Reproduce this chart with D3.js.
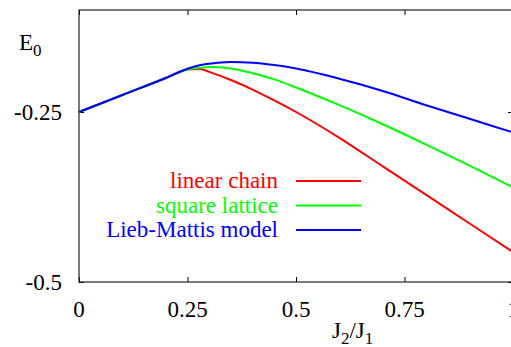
<!DOCTYPE html>
<html>
<head>
<meta charset="utf-8">
<script src="https://cdn.jsdelivr.net/npm/d3@7"></script>
</head>
<body style="margin:0; background:#fff">
<svg id="chart" width="511" height="347" style="display:block">
  <g id="plot" transform="translate(79,10)">
    <text class="xlab" style="font-family:'Liberation Serif'" font-size="23" text-anchor="middle">0</text>
    <text class="xlab" style="font-family:'Liberation Serif'" font-size="23" text-anchor="middle">0</text>
    <text class="xlab" style="font-family:'Liberation Serif'" font-size="23" text-anchor="middle">0</text>
    <text class="xlab" style="font-family:'Liberation Serif'" font-size="23" text-anchor="middle">0</text>
    <text class="xlab" style="font-family:'Liberation Serif'" font-size="23" text-anchor="middle">0</text>
    <text class="ylab" style="font-family:'Liberation Serif'" font-size="23" text-anchor="end">0</text>
    <text class="ylab" style="font-family:'Liberation Serif'" font-size="23" text-anchor="end">0</text>
  </g>
  <text class="leg" style="font-family:'Liberation Serif'" font-size="23" text-anchor="end">x</text>
  <text class="leg" style="font-family:'Liberation Serif'" font-size="23" text-anchor="end">x</text>
  <text class="leg" style="font-family:'Liberation Serif'" font-size="23" text-anchor="end">x</text>
  <text id="ytitle" style="font-family:'Liberation Serif'" font-size="23"><tspan>E</tspan><tspan font-size="17" dy="6">0</tspan></text>
  <text id="xtitle" style="font-family:'Liberation Serif'" font-size="23"><tspan>J</tspan><tspan font-size="17" dy="6">2</tspan><tspan dy="-6">/J</tspan><tspan font-size="17" dy="6">1</tspan></text>
</svg>
<script>
// plot frame in pixels
var width = 434;
var height = 272;

// data
var ratio = [0, 0.1, 0.2, 0.25, 0.28, 0.3, 0.35, 0.4, 0.45, 0.5, 0.6, 0.7, 0.8, 0.9, 1.0];
var linearChain = [-0.25, -0.225, -0.2, -0.1875, -0.1868, -0.191, -0.203, -0.217, -0.233, -0.25, -0.288, -0.33, -0.372, -0.414, -0.456];
var squareLattice = [-0.25, -0.225, -0.2, -0.1875, -0.1848, -0.184, -0.186, -0.193, -0.202, -0.214, -0.24, -0.268, -0.298, -0.329, -0.361];
var liebMattis = [-0.25, -0.225, -0.2, -0.1865, -0.181, -0.179, -0.1765, -0.1775, -0.181, -0.186, -0.201, -0.219, -0.24, -0.26, -0.28];

var seriesNames = ["linear chain", "square lattice", "Lieb-Mattis model"];
var seriesColors = ["#ff0000", "#00ff00", "#0000ff"];
var seriesValues = [linearChain, squareLattice, liebMattis];

var xTicks = [0, 0.25, 0.5, 0.75, 1];
var xTickLabels = ["0", "0.25", "0.5", "0.75", "1"];
var yTicks = [-0.5, -0.25];
var yTickLabels = ["-0.5", "-0.25"];

var svg = d3.select("#chart");
var g = d3.select("#plot");

var xScale = d3.scaleLinear().domain([0, 1]).range([0, width]);
var yScale = d3.scaleLinear().domain([-0.5, -0.1]).range([height, 0]);

// tick marks, pointing into the frame (top/bottom and left/right)
var bottomAxis = d3.axisBottom(xScale).tickValues(xTicks).tickFormat("").tickSize(-5);
var topAxis = d3.axisTop(xScale).tickValues(xTicks).tickFormat("").tickSize(-5);
var leftAxis = d3.axisLeft(yScale).tickValues(yTicks).tickFormat("").tickSize(-5);
var rightAxis = d3.axisRight(yScale).tickValues(yTicks).tickFormat("").tickSize(-5);

function styleAxis(sel) {
  sel.select(".domain").remove();
  sel.selectAll(".tick line").attr("stroke", "#000");
}

g.append("g").attr("transform", `translate(0, ${height})`).call(bottomAxis).call(styleAxis);
g.append("g").call(topAxis).call(styleAxis);
g.append("g").call(leftAxis).call(styleAxis);
g.append("g").attr("transform", `translate(${width}, 0)`).call(rightAxis).call(styleAxis);

// tick labels (text elements already in the page)
g.selectAll(".xlab")
  .data(xTicks)
  .attr("x", d => xScale(d))
  .attr("y", height + 35)
  .text((d, i) => xTickLabels[i]);

g.selectAll(".ylab")
  .data(yTicks)
  .attr("x", -17)
  .attr("y", d => yScale(d) + 8)
  .text((d, i) => yTickLabels[i]);

// frame
g.append("rect")
  .attr("x", 0)
  .attr("y", 0)
  .attr("width", width)
  .attr("height", height)
  .attr("fill", "none")
  .attr("stroke", "#222")
  .attr("stroke-width", 1.2);

// curves
var line = d3.line()
  .x((d, i) => xScale(ratio[i]))
  .y(d => yScale(d))
  .curve(d3.curveMonotoneX);

[0, 1, 2].forEach(function(k) {
  g.append("path")
    .datum(seriesValues[k])
    .attr("d", line)
    .attr("fill", "none")
    .attr("stroke", seriesColors[k])
    .attr("stroke-width", 2);
});

// legend
svg.selectAll(".leg")
  .data(seriesNames)
  .attr("x", 278)
  .attr("y", (d, k) => 188 + k * 24.5)
  .attr("fill", (d, k) => seriesColors[k])
  .text(d => d);

svg.selectAll(".legline")
  .data(seriesNames)
  .enter().append("line")
  .attr("class", "legline")
  .attr("x1", 296)
  .attr("x2", 361)
  .attr("y1", (d, k) => 181 + k * 24.5)
  .attr("y2", (d, k) => 181 + k * 24.5)
  .attr("stroke", (d, k) => seriesColors[k])
  .attr("stroke-width", 2);

// axis titles
svg.select("#ytitle").attr("x", 19).attr("y", 50).attr("fill", "#000");
svg.select("#xtitle").attr("x", 332).attr("y", 338).attr("fill", "#000");
</script>
</body>
</html>
